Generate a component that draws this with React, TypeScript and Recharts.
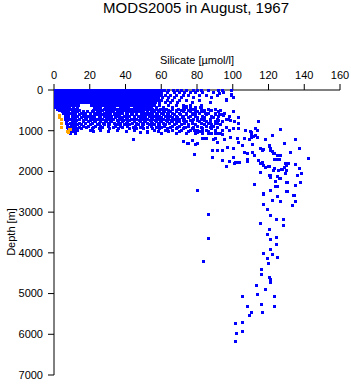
import { ScatterChart, Scatter, XAxis, YAxis } from "recharts";

const FONT = '"Liberation Sans", Arial, Helvetica, sans-serif';

const silicateTicks = [0, 20, 40, 60, 80, 100, 120, 140, 160];
const depthTicks = [0, 1000, 2000, 3000, 4000, 5000, 6000, 7000];

// upper layer: [depth, silicate values observed at about that depth]
const upperRows: [number, number[]][] = [
  [0, [0.5, 2, 3.6, 5.2, 6.8, 8.4, 10, 11.6, 13.2, 14.8, 16.4, 18, 19.6, 21.2, 22.8, 24.4, 26, 27.6, 29.2, 30.8, 32.4, 34, 35.6, 37.2, 38.8, 40.4, 42, 43.6, 45.2, 46.8, 48.4, 50, 51.6, 53.2, 54.8, 56.4, 58, 59.6, 61.5, 64, 66.5, 69, 71, 74, 77.5, 80, 82, 86, 92, 94, 99]],
  [60, [0.8, 2.4, 4, 5.6, 7.2, 8.8, 10.4, 12, 13.6, 15.2, 16.8, 18.4, 20, 21.6, 23.2, 24.8, 26.4, 28, 29.6, 31.2, 32.8, 34.4, 36, 37.6, 39.2, 40.8, 42.4, 44, 45.6, 47.2, 48.8, 50.4, 52, 53.6, 55.2, 56.8, 58.4, 60, 63, 67, 70, 73, 76, 79, 83, 89, 94.5]],
  [120, [0.5, 2.1, 3.7, 5.3, 6.9, 8.5, 10.1, 11.7, 13.3, 14.9, 16.5, 18.1, 19.7, 21.3, 22.9, 24.5, 26.1, 27.7, 29.3, 30.9, 32.5, 34.1, 35.7, 37.3, 38.9, 40.5, 42.1, 43.7, 45.3, 46.9, 48.5, 50.1, 51.7, 53.3, 54.9, 56.5, 58.1, 59.7, 62, 65, 68, 72, 75, 81, 85, 91, 99]],
  [180, [0.7, 2.3, 3.9, 5.5, 7.1, 8.7, 10.3, 11.9, 13.5, 15.1, 16.7, 18.3, 19.9, 21.5, 23.1, 24.7, 26.3, 27.9, 29.5, 31.1, 32.7, 34.3, 35.9, 37.5, 39.1, 40.7, 42.3, 43.9, 45.5, 47.1, 48.7, 50.3, 51.9, 53.5, 55.1, 56.7, 58.2, 60.5, 64, 67, 71, 78, 88, 100]],
  [240, [0.5, 2.1, 3.7, 5.3, 6.9, 8.5, 10.1, 11.7, 13.3, 14.9, 16.5, 18.1, 19.7, 21.3, 22.9, 24.5, 26.1, 27.7, 29.3, 30.9, 32.5, 34.1, 35.7, 37.3, 38.9, 40.5, 42.1, 43.7, 45.3, 46.9, 48.5, 50.1, 51.7, 53.3, 54.9, 56.6, 58, 60, 63, 66, 70, 74, 81, 96]],
  [300, [0.6, 2.2, 3.8, 5.4, 7, 8.6, 10.2, 11.8, 13.4, 15, 16.6, 18.2, 19.8, 21.4, 23, 24.6, 26.2, 27.8, 29.4, 31, 32.6, 34.2, 35.8, 37.4, 39, 40.6, 42.2, 43.8, 45.4, 47, 48.6, 50.2, 51.8, 53.4, 55, 56.5, 58.5, 62, 65, 69, 77, 87]],
  [360, [0.5, 2.1, 3.7, 5.3, 6.9, 8.5, 10.1, 11.7, 13.3, 20.5, 22, 23.6, 25.2, 26.8, 28.4, 30, 31.6, 33.2, 34.8, 36.4, 38, 39.6, 41.2, 42.8, 44.4, 46, 47.6, 49.2, 50.8, 52.4, 54, 56, 59, 64, 68, 72, 76, 82]],
  [420, [0.6, 2.2, 3.8, 5.4, 7, 8.6, 10.5, 13, 22.5, 24.1, 25.7, 28.8, 30.4, 32, 33.6, 36.7, 38.3, 39.9, 41.5, 44.6, 46.2, 47.8, 49.4, 51, 52.6, 54, 57, 61, 66, 72, 74, 79, 82]],
  [455, [1.5, 4, 6.5, 9, 12.5, 23, 25.5, 28, 30, 32, 34, 36, 38, 40.5, 43, 45, 47, 49, 51, 53, 55, 57, 59.5, 62.5, 66, 69.5, 73, 77, 82, 86, 90]],
  [490, [3, 4.5, 6, 8, 10, 11.5, 14, 22, 24, 27, 29, 31, 33, 35, 37, 39, 42, 44, 46, 48, 50, 52, 54, 56, 58, 61, 64, 68, 71, 75, 79, 84, 88, 93]],
  [525, [4.5, 6, 7.5, 10.5, 13, 16, 18.5, 21.5, 24.5, 26, 29.5, 32.5, 35.5, 37.5, 40, 42.5, 45, 47.5, 50, 52, 54.5, 56, 58.5, 61.5, 65, 68.5, 72, 76, 80, 83, 92]],
  [560, [5, 7, 9, 12, 15, 17, 20, 23, 26, 28, 31, 34, 36, 38, 41, 43, 46, 49, 51, 53, 55, 57, 60, 63, 66, 70, 74, 77, 81, 86, 90, 95]],
  [595, [6.5, 10, 14, 17.5, 20, 22.5, 24, 26.5, 29, 31.5, 33.5, 36.5, 40, 43.5, 46, 48.5, 51.5, 54.5, 57.5, 61, 64, 67, 70.5, 74, 78, 85, 90, 94]],
  [630, [6, 8, 11, 13, 16, 19, 21, 25, 28, 30, 32, 35, 39, 42, 45, 47, 50, 53, 56, 59, 62, 65, 68, 72, 76, 79, 83, 88, 92, 98]],
  [665, [7.5, 10, 12, 15, 17.5, 20, 22.5, 26, 29, 31.5, 34, 36.5, 38, 41, 44.5, 48, 51, 54, 57, 60, 63, 66, 69, 71.5, 75, 80, 84, 89]],
  [700, [6, 9, 11, 14, 18, 21, 24, 27, 30, 33, 37, 40, 43, 46, 49, 52, 55, 58, 61, 64, 67, 70, 73, 78, 82, 87, 91, 96]],
  [735, [7.5, 10, 12.5, 16, 20, 22.5, 25.5, 28.5, 31.5, 35, 38.5, 42, 44.5, 47.5, 50.5, 53.5, 56.5, 59.5, 62.5, 65.5, 68.5, 72, 76, 80, 84, 92]],
  [770, [6.5, 10, 12, 16, 19, 23, 26, 29, 32, 36, 38, 41, 45, 48, 51, 54, 57, 60, 63, 66, 70, 74, 77, 81, 85, 90, 94]],
  [805, [6.5, 9, 11.5, 14, 17.5, 21.5, 25, 27.5, 30, 33.5, 37, 40, 43.5, 46, 49, 52, 55, 58, 61, 64.5, 68.5, 73, 77, 82, 86, 91]],
  [840, [7, 10, 13, 15, 20, 24, 28, 31, 35, 39, 42, 47, 50, 53, 56, 59, 62, 67, 71, 75, 79, 84, 88, 93]],
  [875, [7, 9.5, 12, 16.5, 19, 23, 26, 30, 34, 37, 41, 45.5, 49.5, 54, 58, 61.5, 66, 70, 75, 80, 85, 89]],
  [910, [7, 9, 11, 14, 18, 22, 27, 33, 38, 44, 48, 52, 57, 60, 65, 69, 73, 78, 82, 87, 91, 96]],
  [945, [8, 10, 12.5, 15, 21, 25, 31, 36, 42, 46, 50, 55, 59, 63, 68, 72, 77, 83, 88]],
  [980, [9, 11, 13, 20, 26, 35, 45, 56, 62, 66, 71, 76, 80, 85, 90, 94]],
  [1015, [10, 11.5, 22, 30, 40, 52, 58, 64, 70, 75, 81, 86]],
  [1050, [9, 12, 60, 68, 74, 79, 83, 88, 92]],
];

// scattered points in the upper and intermediate layers: [silicate, depth]
const midPoints: [number, number][] = [
  [71.9, 426], [74, 393], [76.2, 442], [81.8, 409], [82.2, 491], [87, 491], [84.6, 573], [79, 573],
  [92.1, 590], [94.3, 606], [100, 524], [97.4, 704], [98.3, 737], [100.5, 770], [102.8, 671],
  [102.8, 819], [90.2, 819], [87, 770], [92.5, 82], [94.5, 57], [99, 106], [100, 164], [96, 213],
  [87, 303], [114, 770], [126.7, 966], [121.8, 1113], [107, 990], [111.6, 1130], [94, 1090],
  [90, 1170], [82.8, 1170], [74.3, 1290], [79, 1335], [44, 1210], [48, 1023], [51.9, 1023],
  [73.4, 900], [78.1, 982], [80, 1023], [82.8, 982], [85.9, 1065], [90.1, 1065], [93, 1065],
  [98.1, 982], [100.2, 942], [102.8, 942], [107.1, 982], [110.3, 1023], [113.3, 982], [112.7, 1105],
  [110.4, 1146], [106.1, 1187], [108.9, 1212], [103, 1269], [71.9, 1244], [74.7, 1310], [77.1, 1228],
  [80, 1310], [83.3, 1187], [85.2, 1187], [88.9, 1212], [91.2, 1285], [94.9, 1212], [98.7, 1163],
  [102.6, 1187], [117.9, 1212], [128.8, 1310], [134.8, 1212], [137, 1433], [132, 1531], [142.1, 1678],
  [78.1, 1572], [88.2, 1474], [88.4, 1637], [91.2, 1474], [94, 1474], [96.8, 1409], [99.9, 1433],
  [99.9, 1637], [105.2, 1359], [106.1, 1515], [108, 1556], [110.8, 1515], [112.1, 1597], [115.5, 1433],
  [116.4, 1474], [120.2, 1375], [121.1, 1433], [122.1, 1490], [123, 1556], [126.7, 1597], [124.9, 1695],
  [123, 1703], [120.2, 1867], [94, 1719], [96, 1859], [98.1, 1736], [101.5, 1768], [103.3, 1760],
  [108, 1752], [114, 1719], [116.4, 1760], [117, 1842], [123, 1924], [127.3, 1948], [129.7, 1842],
  [130.8, 1801], [129.9, 1965], [134.8, 1826], [137, 1907], [138, 2047], [135.9, 2096], [115.1, 2022],
  [120.2, 2096], [121.1, 2145], [126, 2153], [109.9, 1007], [112.7, 941], [113.3, 1162], [110.3, 1105],
  [110.8, 1326], [117, 1457], [120.2, 1351], [121.1, 1474], [122.6, 1556], [124.9, 1589], [125.8, 1703],
  [129.5, 1801], [134.6, 1817], [129.5, 2047], [124.9, 2112], [108, 1703], [102.4, 1768], [100.5, 1785],
  [111.7, 1597], [115.1, 1801], [117.9, 1883], [119.6, 1859], [122.6, 1965], [125.4, 1965],
  [127.1, 1940], [128.6, 1883], [120.6, 2088], [126.3, 2169],
];

// deep layer: [silicate, depth]
const deepPoints: [number, number][] = [
  [123.9, 2228], [129.9, 2252], [137.9, 2267], [112, 2309], [124.9, 2365], [134.8, 2341], [80.1, 2463],
  [129.9, 2481], [120.7, 2449], [116.8, 2547], [124.9, 2611], [133.9, 2586], [121.8, 2702], [126.7, 2719],
  [134.8, 2719], [116.8, 2792], [133.1, 2824], [119, 2930], [85.9, 3053], [120.9, 3077], [124.1, 3176],
  [128, 3176], [115.1, 3274], [128, 3308], [120, 3421], [119, 3544], [124.1, 3603], [85.9, 3628],
  [120.9, 3667], [124.1, 3790], [121.1, 3912], [116.8, 4011], [121.8, 4028], [124.9, 4109], [119, 4133],
  [83.1, 4207], [119.8, 4256], [115.9, 4404], [115.9, 4526], [120.2, 4585], [120.9, 4649], [120.7, 4708],
  [112.9, 4789], [117.9, 4887], [113.8, 5018], [105, 5067], [123, 5067], [107.8, 5305], [115.9, 5263],
  [123, 5298], [110, 5460], [116.1, 5460], [108.9, 5533], [101.1, 5730], [105, 5705], [102, 5975],
  [105, 5926], [101.1, 6165], [130.1, 2251], [123.9, 2358], [130.1, 2481], [134.2, 2579], [120.7, 2456],
  [116.8, 2538], [111.7, 2309],
];

// flagged values near the surface: [silicate, depth]
const flaggedPoints: [number, number][] = [
  [2.6, 610], [3, 660], [3.8, 720], [3.9, 820], [4.1, 920], [7.4, 1000], [8.2, 970], [9, 950], [8, 1030],
];

const blueData = [
  ...upperRows.flatMap(([d, list]) => list.map((s) => ({ s, d }))),
  ...midPoints.map(([s, d]) => ({ s, d })),
  ...deepPoints.map(([s, d]) => ({ s, d })),
];
const orangeData = flaggedPoints.map(([s, d]) => ({ s, d }));

function Square(props: any) {
  const { cx, cy, fill } = props;
  if (cx == null || cy == null) return null;
  return (
    <rect
      x={Math.round(cx) - 1}
      y={Math.round(cy) - 1}
      width={3}
      height={3}
      fill={fill}
      shapeRendering="crispEdges"
    />
  );
}

const tickStyle = { fill: "#000", fontSize: 11, fontFamily: FONT };

export default function App() {
  return (
    <div style={{ position: "absolute", left: 0, top: 0, width: 351, height: 384, background: "#fff" }}>
      <ScatterChart width={351} height={384} margin={{ top: 60, right: 11, bottom: 9, left: 0 }}>
        <XAxis
          type="number"
          dataKey="s"
          orientation="top"
          domain={[0, 160]}
          ticks={silicateTicks}
          interval={0}
          height={30}
          tickSize={6}
          tickMargin={5}
          axisLine={{ stroke: "#000" }}
          tickLine={{ stroke: "#000" }}
          tick={tickStyle}
          label={{ value: "Silicate [µmol/l]", position: "top", offset: -4, fill: "#000", fontSize: 11, fontFamily: FONT }}
        />
        <YAxis
          type="number"
          dataKey="d"
          reversed
          domain={[0, 7000]}
          ticks={depthTicks}
          interval={0}
          width={54}
          tickSize={6}
          tickMargin={5}
          axisLine={{ stroke: "#000" }}
          tickLine={{ stroke: "#000" }}
          tick={tickStyle}
        />
        <Scatter data={blueData} fill="#0000ff" shape={Square} isAnimationActive={false} />
        <Scatter data={orangeData} fill="#ffa500" shape={Square} isAnimationActive={false} />
      </ScatterChart>
      <svg width={351} height={384} style={{ position: "absolute", left: 0, top: 0, pointerEvents: "none" }}>
        <text x={196} y={13} textAnchor="middle" fontSize={15} fontWeight={400} fontFamily={FONT} fill="#000">
          MODS2005 in August, 1967
        </text>
        <text
          x={15}
          y={232}
          transform="rotate(-90, 15, 232)"
          textAnchor="middle"
          fontSize={11}
          fontFamily={FONT}
          fill="#000"
        >
          Depth [m]
        </text>
      </svg>
    </div>
  );
}
